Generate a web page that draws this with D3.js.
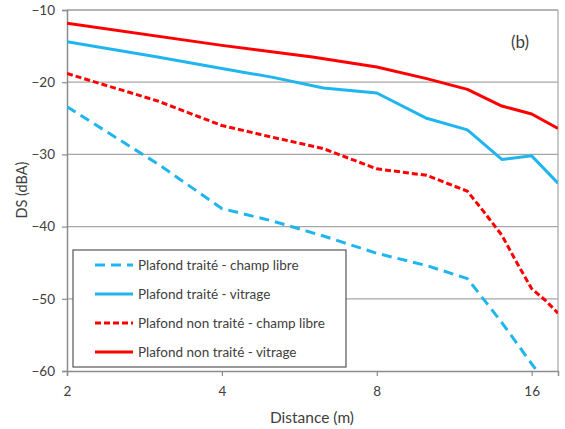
<!DOCTYPE html>
<html>
<head>
<meta charset="utf-8">
<script src="https://cdn.jsdelivr.net/npm/d3@7"></script>
<style>
  body { margin: 0; background: #fff; }
  text { font-family: Lato, "Open Sans", sans-serif; fill: #404040; }
</style>
</head>
<body>
<div id="chart"></div>
<script>
// distances (m) and DS values (dBA)
const tcDist = [2, 3, 4, 5, 6.3, 8, 10, 12, 12.5, 14, 16, 18];
const tcVals = [-23.4, -31.3, -37.5, -39.2, -41.3, -43.7, -45.4, -47.2, -48.8, -53.3, -59.0, -64.0];

const tvDist = [2, 3, 4, 5, 6.3, 8, 10, 12, 14, 16, 18];
const tvVals = [-14.4, -16.5, -18.1, -19.3, -20.8, -21.5, -25.0, -26.6, -30.7, -30.2, -34.0];

const ncDist = [2, 3, 4, 5, 6.3, 8, 10, 12, 13, 14, 15, 16, 17, 18];
const ncVals = [-18.8, -22.6, -26.0, -27.6, -29.2, -32.0, -32.9, -35.1, -38.2, -41.2, -45.1, -48.6, -50.2, -52.0];

const nvDist = [2, 4, 6, 8, 10, 12, 14, 16, 18];
const nvVals = [-11.85, -14.9, -16.5, -17.9, -19.5, -21.0, -23.3, -24.4, -26.4];

const seriesNames = [
  "Plafond traité - champ libre",
  "Plafond traité - vitrage",
  "Plafond non traité - champ libre",
  "Plafond non traité - vitrage"
];
const xTicks = [2, 4, 8, 16];
const yTicks = [-10, -20, -30, -40, -50, -60];

const series = [
  { name: seriesNames[0], dist: tcDist, vals: tcVals, color: "#1FB5EE", dash: "10,6" },
  { name: seriesNames[1], dist: tvDist, vals: tvVals, color: "#1FB5EE", dash: null },
  { name: seriesNames[2], dist: ncDist, vals: ncVals, color: "#FF0000", dash: "6,3" },
  { name: seriesNames[3], dist: nvDist, vals: nvVals, color: "#FF0000", dash: null }
];

const W = 565, H = 429;
const margin = { top: 10, right: 7, bottom: 58, left: 67 };
const width = W - margin.left - margin.right;
const height = H - margin.top - margin.bottom;

const svg = d3.select("#chart").append("svg")
  .attr("width", W).attr("height", H);

const g = svg.append("g")
  .attr("transform", "translate(" + margin.left + "," + margin.top + ")");

const x = d3.scaleLog().base(2).domain([2, 18]).range([0, width]);
const y = d3.scaleLinear().domain([-60, -10]).range([height, 0]);

// horizontal gridlines
g.selectAll(".grid").data(yTicks.filter(d => d > -60 && d < -10)).enter()
  .append("line")
  .attr("x1", 0).attr("x2", width)
  .attr("y1", d => y(d)).attr("y2", d => y(d))
  .attr("stroke", "#A6A6A6").attr("stroke-width", 1.2);

// plot frame (top and right)
g.append("line").attr("x1", 0).attr("x2", width).attr("y1", 0).attr("y2", 0)
  .attr("stroke", "#6E6E6E").attr("stroke-width", 1.2);
g.append("line").attr("x1", width).attr("x2", width).attr("y1", 0).attr("y2", height)
  .attr("stroke", "#A6A6A6").attr("stroke-width", 1.2);

// axes
const yAxis = g.append("g")
  .call(d3.axisLeft(y).tickValues(yTicks).tickSize(5).tickPadding(7).tickFormat(d3.format("d")));
const xAxis = g.append("g")
  .attr("transform", "translate(0," + height + ")")
  .call(d3.axisBottom(x).tickValues(xTicks).tickSize(5).tickPadding(10).tickFormat(d3.format("d")));

[yAxis, xAxis].forEach(ax => {
  ax.select(".domain").attr("stroke", "#8C8C8C").attr("stroke-width", 1.5);
  ax.selectAll(".tick line").attr("stroke", "#8C8C8C").attr("stroke-width", 1.2);
  ax.selectAll(".tick text")
    .style("font-family", "Lato, 'Open Sans', sans-serif")
    .attr("font-size", 13.5).attr("fill", "#404040");
});

// clip
g.append("clipPath").attr("id", "clip")
  .append("rect").attr("width", width).attr("height", height);

const line = d3.line()
  .x(d => x(d[0]))
  .y(d => y(d[1]));

g.append("g").attr("clip-path", "url(#clip)")
  .selectAll("path").data(series).enter()
  .append("path")
  .attr("d", s => line(s.dist.map((d, i) => [d, s.vals[i]])))
  .attr("fill", "none")
  .attr("stroke", s => s.color)
  .attr("stroke-width", 3)
  .attr("stroke-dasharray", s => s.dash)
  .attr("stroke-linejoin", "round");

// legend
const legend = svg.append("g").attr("transform", "translate(73,250)");
legend.append("rect")
  .attr("width", 273).attr("height", 117)
  .attr("fill", "#fff").attr("stroke", "#555").attr("stroke-width", 1.2);

const items = legend.selectAll(".item").data(series).enter()
  .append("g")
  .attr("transform", (d, i) => "translate(0," + (15 + i * 29) + ")");
items.append("line")
  .attr("x1", 22).attr("x2", 60)
  .attr("stroke", d => d.color)
  .attr("stroke-width", 3)
  .attr("stroke-dasharray", d => d.dash);
items.append("text")
  .attr("x", 65).attr("dy", "0.35em")
  .attr("font-size", 13.5)
  .text(d => d.name);

// labels
svg.append("text")
  .attr("x", 312).attr("y", 423)
  .attr("text-anchor", "middle").attr("font-size", 15.5)
  .text("Distance (m)");

svg.append("text")
  .attr("transform", "translate(27,190) rotate(-90)")
  .attr("text-anchor", "middle").attr("font-size", 14.5)
  .text("DS (dBA)");

svg.append("text")
  .attr("x", 520).attr("y", 48)
  .attr("text-anchor", "middle").attr("font-size", 17)
  .text("(b)");
</script>
</body>
</html>
